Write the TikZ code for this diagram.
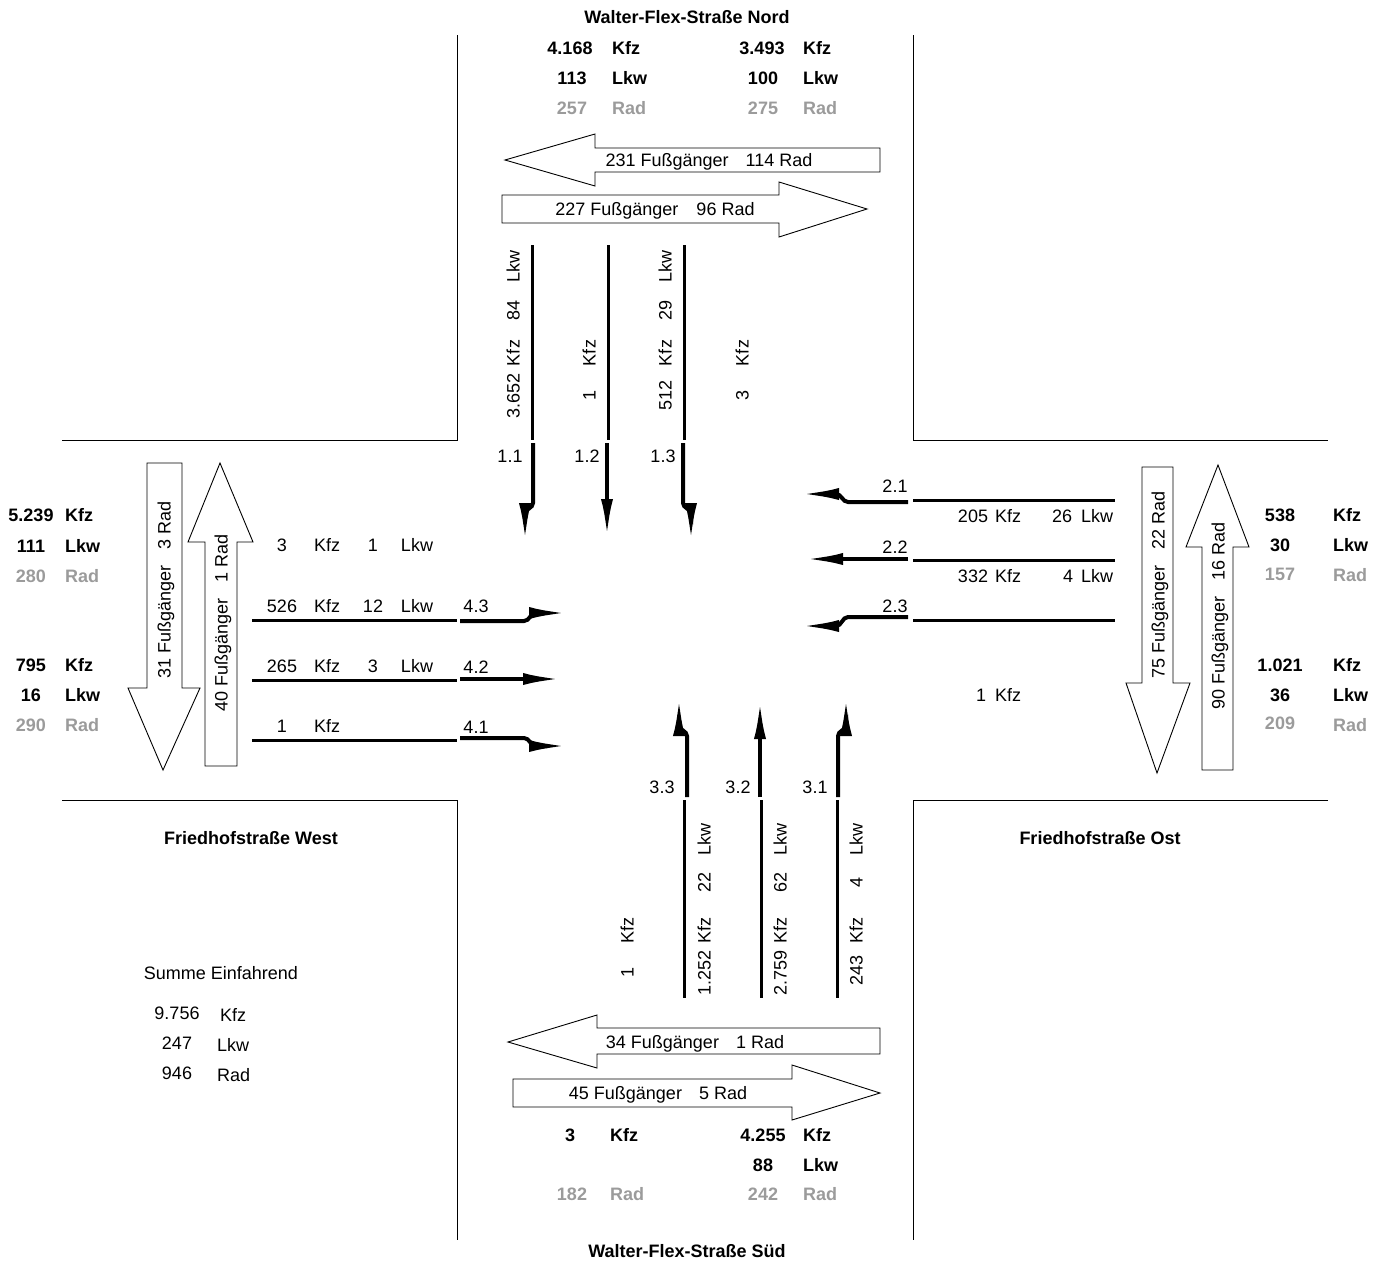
\documentclass[tikz,border=0pt]{standalone}
\usepackage{fontspec}
\setmainfont{Liberation Sans}
\usetikzlibrary{arrows.meta}
\definecolor{radgray}{RGB}{155,155,155}
\begin{document}
\begin{tikzpicture}[x=1pt,y=-1pt,
  lbl/.style={font=\fontsize{18}{20}\selectfont, inner sep=0pt, text height=13pt, text depth=0pt},
  blbl/.style={lbl, font=\fontsize{18}{20}\selectfont\bfseries},
  glbl/.style={blbl, text=radgray},
  vlbl/.style={lbl, rotate=90},
  roadedge/.style={line width=1pt, black},
  laneline/.style={line width=3pt, black},
  ped/.style={draw=black, line width=0.9pt, fill=white, line join=miter},
  lanearr/.style={line width=4pt, black, -{Latex[length=38pt,width=12pt]}},
]
\useasboundingbox (0,0) rectangle (1384,1261);

% road edges
\draw[roadedge] (457,35) -- (457,440) -- (62,440);
\draw[roadedge] (913,35) -- (913,440) -- (1328,440);
\draw[roadedge] (62,800) -- (457,800) -- (457,1240);
\draw[roadedge] (1328,800) -- (913,800) -- (913,1240);

% titles
\node[blbl] (tN) at (687,17) {Walter-Flex-Straße Nord};
\node[blbl] (tS) at (687,1251) {Walter-Flex-Straße Süd};
\node[blbl] (tW) at (251,838) {Friedhofstraße West};
\node[blbl] (tE) at (1100,838) {Friedhofstraße Ost};

% north totals
\node[blbl] (n1a) at (570,48) {4.168}; \node[blbl,anchor=west] (n1b) at (612,48) {Kfz};
\node[blbl] (n2a) at (572,78) {113};   \node[blbl,anchor=west] (n2b) at (612,78) {Lkw};
\node[glbl] (n3a) at (572,108) {257};  \node[glbl,anchor=west] (n3b) at (612,108) {Rad};
\node[blbl] (n4a) at (762,48) {3.493}; \node[blbl,anchor=west] (n4b) at (803,48) {Kfz};
\node[blbl] (n5a) at (763,78) {100};   \node[blbl,anchor=west] (n5b) at (803,78) {Lkw};
\node[glbl] (n6a) at (763,108) {275};  \node[glbl,anchor=west] (n6b) at (803,108) {Rad};

% south totals
\node[blbl] (s1a) at (570,1135) {3};     \node[blbl,anchor=west] (s1b) at (610,1135) {Kfz};
\node[glbl] (s3a) at (572,1194) {182};   \node[glbl,anchor=west] (s3b) at (610,1194) {Rad};
\node[blbl] (s4a) at (763,1135) {4.255}; \node[blbl,anchor=west] (s4b) at (803,1135) {Kfz};
\node[blbl] (s5a) at (763,1165) {88};    \node[blbl,anchor=west] (s5b) at (803,1165) {Lkw};
\node[glbl] (s6a) at (763,1194) {242};   \node[glbl,anchor=west] (s6b) at (803,1194) {Rad};

% west totals
\node[blbl] (w1a) at (31,515) {5.239}; \node[blbl,anchor=west] (w1b) at (65,515) {Kfz};
\node[blbl] (w2a) at (31,546) {111};   \node[blbl,anchor=west] (w2b) at (65,546) {Lkw};
\node[glbl] (w3a) at (31,576) {280};   \node[glbl,anchor=west] (w3b) at (65,576) {Rad};
\node[blbl] (w4a) at (31,665) {795};   \node[blbl,anchor=west] (w4b) at (65,665) {Kfz};
\node[blbl] (w5a) at (31,695) {16};    \node[blbl,anchor=west] (w5b) at (65,695) {Lkw};
\node[glbl] (w6a) at (31,725) {290};   \node[glbl,anchor=west] (w6b) at (65,725) {Rad};

% east totals
\node[blbl] (e1a) at (1280,515) {538};   \node[blbl,anchor=west] (e1b) at (1333,515) {Kfz};
\node[blbl] (e2a) at (1280,545) {30};    \node[blbl,anchor=west] (e2b) at (1333,545) {Lkw};
\node[glbl] (e3a) at (1280,574) {157};   \node[glbl,anchor=west] (e3b) at (1333,575) {Rad};
\node[blbl] (e4a) at (1280,665) {1.021}; \node[blbl,anchor=west] (e4b) at (1333,665) {Kfz};
\node[blbl] (e5a) at (1280,695) {36};    \node[blbl,anchor=west] (e5b) at (1333,695) {Lkw};
\node[glbl] (e6a) at (1280,723) {209};   \node[glbl,anchor=west] (e6b) at (1333,725) {Rad};

% pedestrian arrows north
\draw[ped] (505,160) -- (595,134) -- (595,148) -- (880,148) -- (880,172) -- (595,172) -- (595,186) -- cycle;
\node[lbl] (pN1) at (709,160) {231 Fußgänger\hspace{17pt}114 Rad};
\draw[ped] (502,195) -- (779,195) -- (779,182) -- (867,209) -- (779,237) -- (779,223) -- (502,223) -- cycle;
\node[lbl] (pN2) at (655,209) {227 Fußgänger\hspace{18pt}96 Rad};

% pedestrian arrows south
\draw[ped] (508,1042) -- (597,1015) -- (597,1028) -- (880,1028) -- (880,1054) -- (597,1054) -- (597,1068) -- cycle;
\node[lbl] (pS1) at (695,1042) {34 Fußgänger\hspace{17pt}1 Rad};
\draw[ped] (513,1079) -- (792,1079) -- (792,1065) -- (880,1093) -- (792,1120) -- (792,1107) -- (513,1107) -- cycle;
\node[lbl] (pS2) at (658,1093) {45 Fußgänger\hspace{17pt}5 Rad};

% pedestrian arrows west
\draw[ped] (147,463) -- (182,463) -- (182,688) -- (200,688) -- (163,770) -- (128,688) -- (147,688) -- cycle;
\node[vlbl] (pW1) at (164,590) {31 Fußgänger\hspace{16pt}3 Rad};
\draw[ped] (220,463) -- (253,542) -- (237,542) -- (237,766) -- (205,766) -- (205,542) -- (188,542) -- cycle;
\node[vlbl] (pW2) at (221,623) {40 Fußgänger\hspace{16pt}1 Rad};

% pedestrian arrows east
\draw[ped] (1142,467) -- (1173,467) -- (1173,683) -- (1190,683) -- (1157,773) -- (1126,683) -- (1142,683) -- cycle;
\node[vlbl] (pE1) at (1158,585) {75 Fußgänger\hspace{16pt}22 Rad};
\draw[ped] (1218,465) -- (1249,547) -- (1233,547) -- (1233,770) -- (1202,770) -- (1202,547) -- (1186,547) -- cycle;
\node[vlbl] (pE2) at (1218,616) {90 Fußgänger\hspace{16pt}16 Rad};

% lane lines north
\coordinate (ln1t) at (532,245); \coordinate (ln1b) at (532,440);
\coordinate (ln2t) at (608,245); \coordinate (ln2b) at (608,440);
\coordinate (ln3t) at (684,245); \coordinate (ln3b) at (684,440);
\draw[laneline] (ln1t) -- (ln1b);
\draw[laneline] (ln2t) -- (ln2b);
\draw[laneline] (ln3t) -- (ln3b);
% lane lines south
\coordinate (ls3t) at (684,800); \coordinate (ls3b) at (684,998);
\coordinate (ls2t) at (761,800); \coordinate (ls2b) at (761,998);
\coordinate (ls1t) at (837,800); \coordinate (ls1b) at (837,998);
\draw[laneline] (ls3t) -- (ls3b);
\draw[laneline] (ls2t) -- (ls2b);
\draw[laneline] (ls1t) -- (ls1b);
% lane lines west
\coordinate (lw3l) at (252,620); \coordinate (lw3r) at (457,620);
\coordinate (lw2l) at (252,680); \coordinate (lw2r) at (457,680);
\coordinate (lw1l) at (252,740); \coordinate (lw1r) at (457,740);
\draw[laneline] (lw3l) -- (lw3r);
\draw[laneline] (lw2l) -- (lw2r);
\draw[laneline] (lw1l) -- (lw1r);
% lane lines east
\coordinate (le1l) at (913,500); \coordinate (le1r) at (1115,500);
\coordinate (le2l) at (913,560); \coordinate (le2r) at (1115,560);
\coordinate (le3l) at (913,620); \coordinate (le3r) at (1115,620);
\draw[laneline] (le1l) -- (le1r);
\draw[laneline] (le2l) -- (le2r);
\draw[laneline] (le3l) -- (le3r);

% north lane labels
\node[vlbl] (a1) at (513,396) {3.652}; \node[vlbl] (a2) at (513,353) {Kfz};
\node[vlbl] (a3) at (513,310) {84};    \node[vlbl] (a4) at (513,266) {Lkw};
\node[vlbl] (b1) at (589,395) {1};     \node[vlbl] (b2) at (589,353) {Kfz};
\node[vlbl] (c1) at (665,395) {512};   \node[vlbl] (c2) at (665,353) {Kfz};
\node[vlbl] (c3) at (665,310) {29};    \node[vlbl] (c4) at (665,266) {Lkw};
\node[vlbl] (d1) at (742,395) {3};     \node[vlbl] (d2) at (742,353) {Kfz};

% south lane labels
\node[vlbl] (f1) at (627,972) {1};     \node[vlbl] (f2) at (627,930) {Kfz};
\node[vlbl] (g1) at (704,973) {1.252}; \node[vlbl] (g2) at (704,930) {Kfz};
\node[vlbl] (g3) at (704,882) {22};    \node[vlbl] (g4) at (704,839) {Lkw};
\node[vlbl] (h1) at (780,973) {2.759}; \node[vlbl] (h2) at (780,930) {Kfz};
\node[vlbl] (h3) at (780,882) {62};    \node[vlbl] (h4) at (780,839) {Lkw};
\node[vlbl] (i1) at (856,970) {243};   \node[vlbl] (i2) at (856,930) {Kfz};
\node[vlbl] (i3) at (856,882) {4};     \node[vlbl] (i4) at (856,839) {Lkw};

% west lane labels
\node[lbl] (j1) at (282,545) {3};   \node[lbl] (j2) at (327,545) {Kfz};
\node[lbl] (j3) at (373,545) {1};   \node[lbl] (j4) at (417,545) {Lkw};
\node[lbl] (k1) at (282,606) {526}; \node[lbl] (k2) at (327,606) {Kfz};
\node[lbl] (k3) at (373,606) {12};  \node[lbl] (k4) at (417,606) {Lkw};
\node[lbl] (m1) at (282,666) {265}; \node[lbl] (m2) at (327,666) {Kfz};
\node[lbl] (m3) at (373,666) {3};   \node[lbl] (m4) at (417,666) {Lkw};
\node[lbl] (o1) at (282,726) {1};   \node[lbl] (o2) at (327,726) {Kfz};

% east lane labels
\node[lbl] (q1) at (973,516) {205}; \node[lbl] (q2) at (1008,516) {Kfz};
\node[lbl] (q3) at (1062,516) {26}; \node[lbl] (q4) at (1097,516) {Lkw};
\node[lbl] (r1) at (973,576) {332}; \node[lbl] (r2) at (1008,576) {Kfz};
\node[lbl] (r3) at (1068,576) {4};  \node[lbl] (r4) at (1097,576) {Lkw};
\node[lbl] (u1) at (981,695) {1};   \node[lbl] (u2) at (1008,695) {Kfz};

% movement arrows north
\draw[lanearr] (533,443) -- (533,503) to[out=-90,in=90] (525,514) -- (525,541);
\draw[lanearr] (607,443) -- (607,537);
\draw[lanearr] (683,443) -- (683,503) to[out=-90,in=90] (691,514) -- (691,541);
\node[lbl] (L11) at (510,456) {1.1};
\node[lbl] (L12) at (587,456) {1.2};
\node[lbl] (L13) at (663,456) {1.3};

% movement arrows east
\draw[lanearr] (908,502) -- (848,502) to[out=180,in=0] (836,494) -- (801,494);
\draw[lanearr] (908,559) -- (805,559);
\draw[lanearr] (908,617) -- (848,617) to[out=180,in=0] (836,626) -- (801,626);
\node[lbl] (L21) at (895,486) {2.1};
\node[lbl] (L22) at (895,547) {2.2};
\node[lbl] (L23) at (895,606) {2.3};

% movement arrows west
\draw[lanearr] (460,621) -- (524,621) to[out=0,in=180] (536,613) -- (567,613);
\draw[lanearr] (460,679) -- (561,679);
\draw[lanearr] (460,738) -- (524,738) to[out=0,in=180] (536,746) -- (567,746);
\node[lbl] (L43) at (476,606) {4.3};
\node[lbl] (L42) at (476,667) {4.2};
\node[lbl] (L41) at (476,727) {4.1};

% movement arrows south
\draw[lanearr] (687,797) -- (687,736) to[out=90,in=-90] (679,725) -- (679,698);
\draw[lanearr] (760,797) -- (760,701);
\draw[lanearr] (838,797) -- (838,736) to[out=90,in=-90] (846,725) -- (846,698);
\node[lbl] (L33) at (662,787) {3.3};
\node[lbl] (L32) at (738,787) {3.2};
\node[lbl] (L31) at (815,787) {3.1};

% summary
\node[lbl] (sum) at (221,973) {Summe Einfahrend};
\node[lbl] (sk1) at (177,1013) {9.756}; \node[lbl,anchor=west] (sk2) at (220,1015) {Kfz};
\node[lbl] (sl1) at (177,1043) {247};   \node[lbl,anchor=west] (sl2) at (217,1045) {Lkw};
\node[lbl] (sr1) at (177,1073) {946};   \node[lbl,anchor=west] (sr2) at (217,1075) {Rad};
\end{tikzpicture}
\end{document}
